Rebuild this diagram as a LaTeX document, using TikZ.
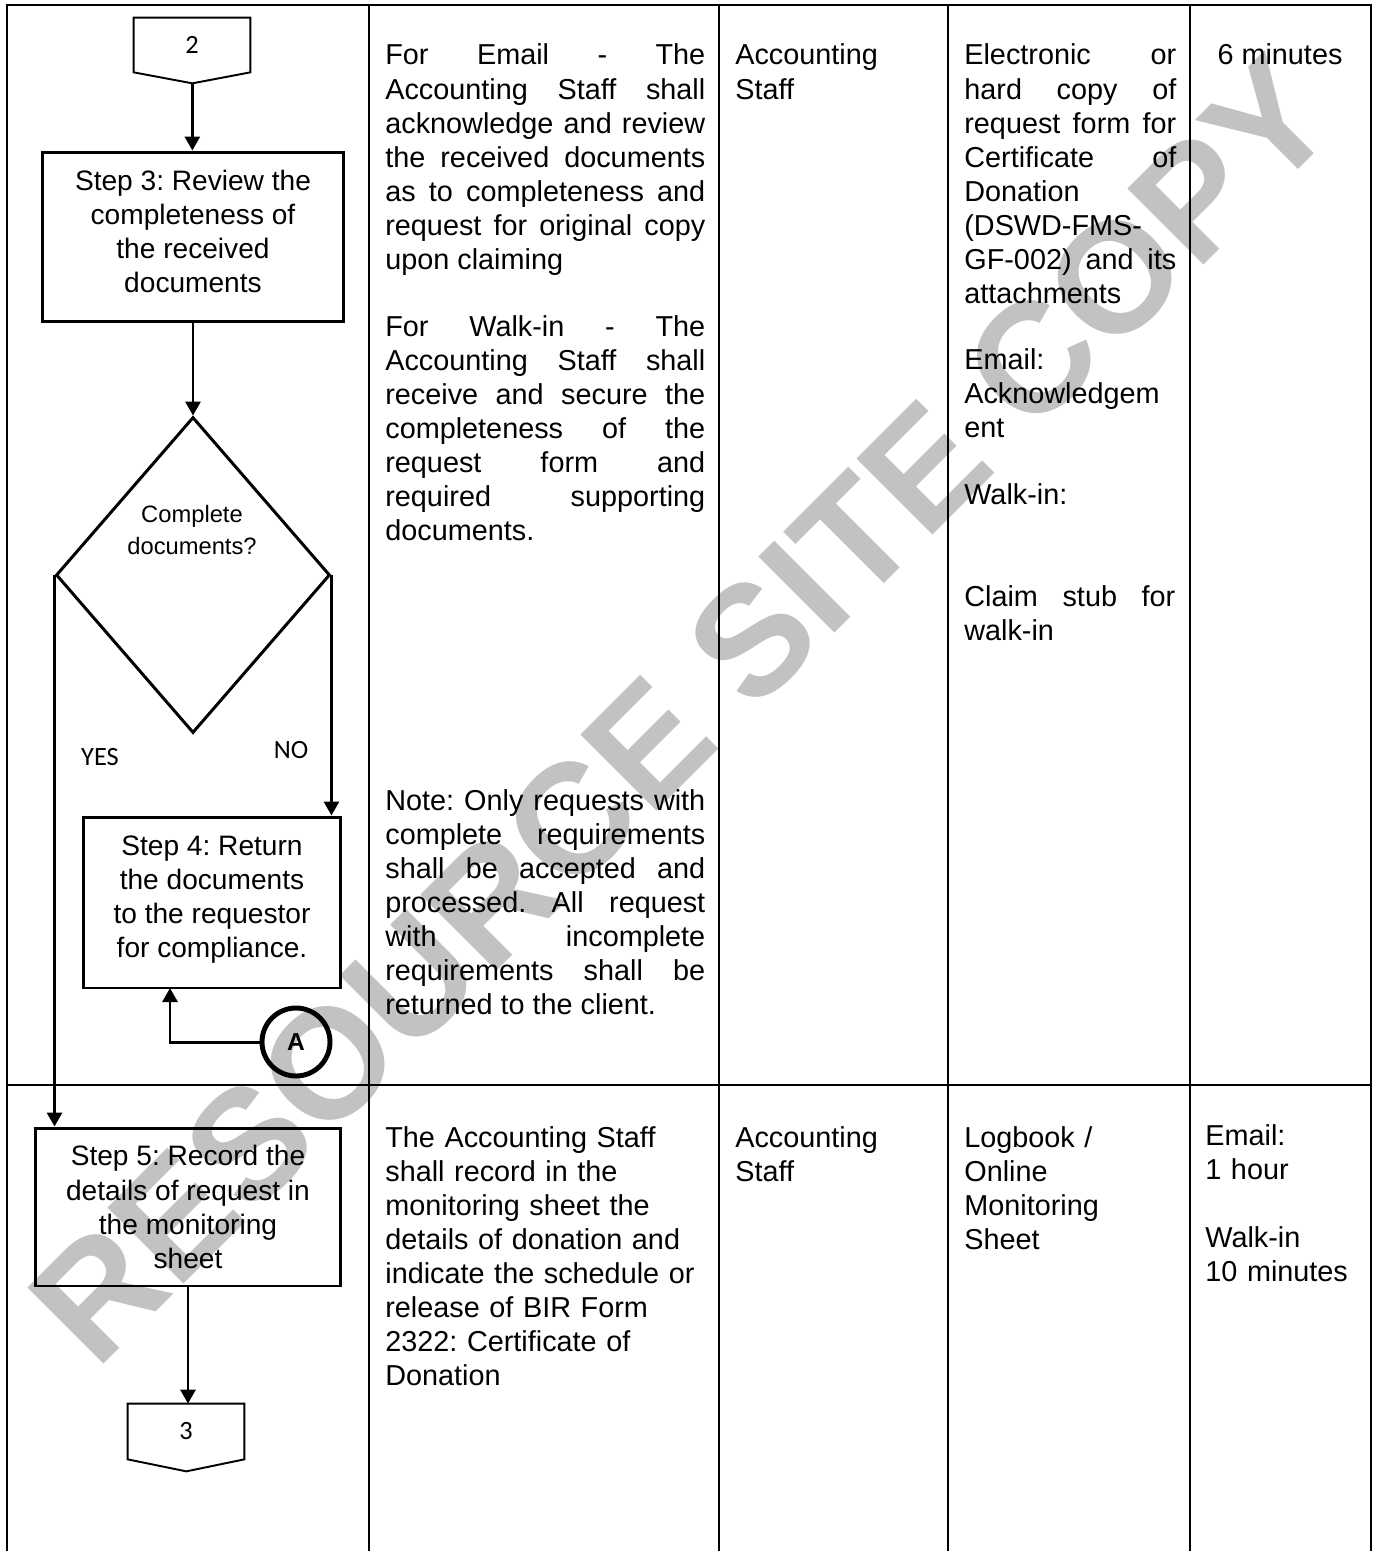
\documentclass[tikz,border=0pt]{standalone}
\usepackage{fontspec}
\setmainfont{Liberation Sans}
\newfontfamily\calib{Carlito}
\usetikzlibrary{arrows.meta,shapes.geometric}
\tolerance=10000
\hbadness=10000
\frenchspacing

\begin{document}
\begin{tikzpicture}[x=0.02cm,y=-0.02cm,
  grid/.style={line width=1.1pt},
  flow/.style={line width=1.7pt,-{Triangle[width=0.3cm,length=0.28cm]}},
  offpage/.style={inner sep=0pt,minimum width=2.32cm,minimum height=1.08cm,font=\calib\fontsize{15}{18}\selectfont},
  stepbox/.style={draw,line width=1.7pt,align=center,inner sep=0pt,font=\fontsize{16}{19.4}\selectfont},
  cell/.style={anchor=base west,inner sep=0pt,align=justify,font=\fontsize{16.4}{19.37}\selectfont},
  plain/.style={anchor=base west,inner sep=0pt,align=left,text width=4.3cm,font=\fontsize{16.4}{19.37}\selectfont}]
  \useasboundingbox (0,0) rectangle (1374,1551);
  \node[rotate=45,inner sep=0pt,text=black!24,font=\bfseries\fontsize{89}{89}\selectfont] (wm) at (682,710) {RESOURCE SITE COPY};

  \draw[grid] (7,1551) -- (7,5) -- (1371,5) -- (1371,1551);
  \foreach \x in {369,719,948,1190}
    \draw[grid] (\x,5) -- (\x,1551);
  \draw[grid] (7,1085) -- (1371,1085);

  % flow column
  \node[offpage] (c2) at (192,45) {2};
  \draw[grid] (c2.north west) -- (c2.north east) -- (c2.south east) -- ++(-58,11) coordinate (c2tip) -- (c2.south west) -- cycle;
  \node[stepbox,minimum width=6.04cm,minimum height=3.4cm,text depth=0.24cm] (s3) at (193,237) {Step 3: Review the\\completeness of\\the received\\documents};
  \node[diamond,draw,line width=1.7pt,inner sep=0pt,minimum width=5.48cm,minimum height=6.32cm] (dec) at (193,575) {};
  \node[align=center,inner sep=0pt,font=\fontsize{13.5}{18.1}\selectfont] (decq) at (192,530) {Complete\\documents?};
  \node[font=\calib\fontsize{15}{18}\selectfont] (yes) at (100,757) {YES};
  \node[font=\calib\fontsize{15}{18}\selectfont] (no) at (291,750) {NO};
  \node[stepbox,minimum width=5.16cm,minimum height=3.42cm,text depth=0.24cm] (s4) at (212,902.5) {Step 4: Return\\the documents\\to the requestor\\for compliance.};
  \node[circle,draw,line width=2.8pt,minimum size=1.36cm,inner sep=0pt,font=\bfseries\fontsize{14}{14}\selectfont] (A) at (296,1042) {A};
  \coordinate (s4in) at (170,988);
  \node[stepbox,minimum width=6.12cm,minimum height=3.16cm] (s5) at (188,1207) {Step 5: Record the\\details of request in\\the monitoring\\sheet};
  \node[offpage,minimum height=1.1cm] (c3) at (186,1431.5) {3};
  \draw[grid] (c3.north west) -- (c3.north east) -- (c3.south east) -- ++(-58,12) -- (c3.south west) -- cycle;

  \draw[flow] (c2tip) -- (c2tip |- s3.north);
  \draw[flow] (s3.south) -- (dec.north);
  \draw[flow] (dec.west) -- (dec.west |- s5.north);
  \draw[flow] (dec.east) -- (dec.east |- s4.north);
  \draw[flow] (A.west) -| (s4in);
  \draw[flow] (s5.south) -- (s5.south |- c3.north);

  % activity column
  \node[cell,text width=6.4cm] (emailtxt) at (385,65) {For Email - The\linebreak Accounting Staff shall\linebreak acknowledge and review\linebreak the received documents\linebreak as to completeness and\linebreak request for original copy\linebreak upon claiming};
  \node[cell,text width=6.4cm] (walktxt) at (385,336) {For Walk-in - The\linebreak Accounting Staff shall\linebreak receive and secure the\linebreak completeness of the\linebreak request form and\linebreak required supporting\linebreak documents.};
  \node[cell,text width=6.4cm] (notetxt) at (385,810) {Note: Only requests with\linebreak complete requirements\linebreak shall be accepted and\linebreak processed. All request\linebreak with incomplete\linebreak requirements shall be\linebreak returned to the client.};
  \node[plain,text width=6.4cm] (recordtxt) at (385,1147) {The Accounting Staff\\shall record in the\\monitoring sheet the\\details of donation and\\indicate the schedule or\\release of BIR Form\\2322: Certificate of\\Donation};

  % person column
  \node[plain] (staff1) at (735,65) {Accounting\\Staff};
  \node[plain] (staff2) at (735,1147) {Accounting\\Staff};

  % forms column
  \node[cell,text width=4.24cm] (formtxt) at (964,65) {Electronic or\linebreak hard copy of\linebreak request form for\linebreak Certificate of\linebreak Donation\linebreak (DSWD-FMS-\linebreak GF-002) and its\linebreak attachments};
  \node[plain] (acktxt) at (964,369) {Email:\\Acknowledgem\\ent};
  \node[plain] (walkin) at (964,504) {Walk-in:};
  \node[cell,text width=4.22cm] (stubtxt) at (964,606) {Claim stub for\linebreak walk-in};
  \node[plain] (logtxt) at (964,1147) {Logbook /\\Online\\Monitoring\\Sheet};

  % time column
  \node[anchor=base,inner sep=0pt,font=\fontsize{16.4}{19.37}\selectfont] (time1) at (1280,65) {6 minutes};
  \node[plain,text width=3.2cm] (time2) at (1205,1145) {Email:\\1 hour\\[19.4pt]Walk-in\\10 minutes};
\end{tikzpicture}
\end{document}
